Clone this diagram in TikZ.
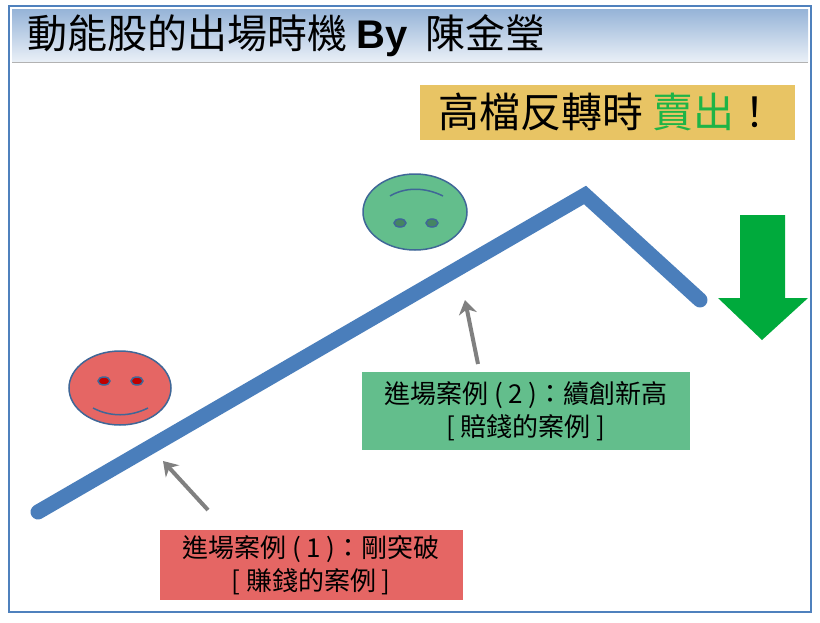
\documentclass[tikz,border=0pt]{standalone}
\usepackage{fontspec}
\setmainfont{Noto Sans CJK TC}
\newfontfamily\latinb{Liberation Sans}
\usetikzlibrary{arrows.meta}
\definecolor{frameblue}{RGB}{79,129,189}
\definecolor{lineblue}{RGB}{74,126,187}
\definecolor{gold}{RGB}{232,196,100}
\definecolor{redf}{RGB}{229,102,100}
\definecolor{greenf}{RGB}{99,190,140}
\definecolor{arrowgreen}{RGB}{0,170,60}
\definecolor{sellgreen}{RGB}{30,180,70}
\begin{document}
\begin{tikzpicture}[x=1pt,y=-1pt,
  lbl/.style={font=\fontsize{26}{33}\selectfont, align=center},
  face/.style={draw=frameblue!80!black, line width=1.5pt},
  eye/.style={draw=frameblue!80!black, line width=1.5pt},
  pointer/.style={draw=gray, line width=4pt, -{Stealth[length=14pt,width=18pt]}}]
\useasboundingbox (0,0) rectangle (820,622);
\fill[white] (0,0) rectangle (820,622);
\draw[frameblue, line width=2.5pt] (9,6) rectangle (811,612);
\shade[top color=frameblue!60, bottom color=frameblue!12] (12,9) rectangle (808,62);
\draw[gray!60, line width=0.8pt] (12,62) -- (808,62);
\node[anchor=west, font=\fontsize{40}{44}\selectfont] (title) at (24,36) {動能股的出場時機\ {\latinb\bfseries By}\ \ 陳金瑩};
\node[fill=gold, minimum width=375pt, minimum height=55pt, font=\fontsize{41}{44}\selectfont] (sell) at (607,112) {高檔反轉時 \textcolor{sellgreen}{賣出}！};
\draw[lineblue, line width=15pt, line cap=round, line join=miter] (38,512) -- (585,195) -- (700,300);
\fill[arrowgreen] (740,215) -- (785,215) -- (785,298) -- (808,298) -- (762,340) -- (718,298) -- (740,298) -- cycle;
% red face
\draw[face, fill=redf] (120,388) ellipse [x radius=51, y radius=37];
\draw[eye, fill=red!75!black] (104,381) ellipse [x radius=6, y radius=4];
\draw[eye, fill=red!75!black] (137,381) ellipse [x radius=6, y radius=4];
\draw[eye] (93,408) .. controls (110,417) and (130,417) .. (148,408);
% green face
\draw[face, fill=greenf] (415,212) ellipse [x radius=52, y radius=38];
\draw[eye, fill=greenf!70!black] (400,223) ellipse [x radius=6, y radius=4];
\draw[eye, fill=greenf!70!black] (432,223) ellipse [x radius=6, y radius=4];
\draw[eye] (390,196) .. controls (405,187) and (425,187) .. (443,196);
% boxes
\node[fill=greenf, minimum width=328pt, minimum height=78pt, lbl] (g) at (526,411) {進場案例 ( 2 )：續創新高\\ {[} 賠錢的案例 ]};
\node[fill=redf, minimum width=303pt, minimum height=70pt, lbl] (r) at (311,565) {進場案例 ( 1 )：剛突破\\ {[} 賺錢的案例 ]};
\coordinate (p1s) at (208,510); \coordinate (p1e) at (163,461);
\coordinate (p2s) at (478,364); \coordinate (p2e) at (465,300);
\draw[pointer] (p1s) -- (p1e);
\draw[pointer] (p2s) -- (p2e);
\end{tikzpicture}
\end{document}
